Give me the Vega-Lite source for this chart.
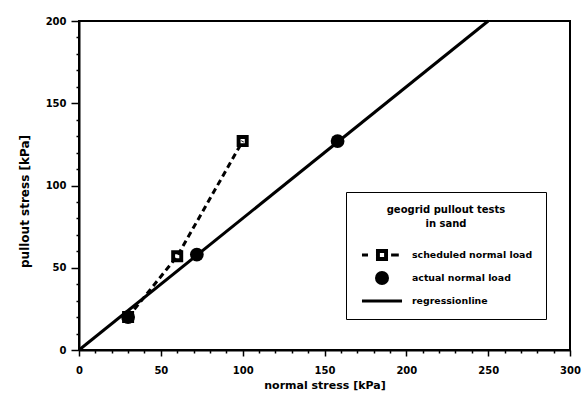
{
  "$schema": "https://vega.github.io/schema/vega-lite/v6.json",
  "width": 491,
  "height": 329,
  "autosize": "none",
  "padding": {"left": 79, "top": 21, "right": 18, "bottom": 53},
  "background": "white",
  "config": {
    "font": "DejaVu Sans",
    "view": {"stroke": "black", "strokeWidth": 2},
    "axis": {
      "grid": false,
      "domainColor": "black",
      "domainWidth": 2,
      "tickColor": "black",
      "tickWidth": 1.5,
      "labelColor": "black",
      "labelFont": "DejaVu Sans",
      "labelFontWeight": "bold",
      "labelFontSize": 10,
      "titleColor": "black",
      "titleFont": "DejaVu Sans",
      "titleFontWeight": "bold"
    }
  },
  "datasets": {
    "tests": [
      {"series": "scheduled normal load", "normal": 30, "pullout": 20},
      {"series": "scheduled normal load", "normal": 60, "pullout": 57},
      {"series": "scheduled normal load", "normal": 100, "pullout": 127},
      {"series": "actual normal load", "normal": 30, "pullout": 20},
      {"series": "actual normal load", "normal": 72, "pullout": 58},
      {"series": "actual normal load", "normal": 158, "pullout": 127}
    ],
    "regression": [
      {"series": "regressionline", "normal": 0, "pullout": 0},
      {"series": "regressionline", "normal": 250, "pullout": 200}
    ],
    "legendRows": [
      {"series": "scheduled normal load"},
      {"series": "actual normal load"},
      {"series": "regressionline"}
    ]
  },
  "encoding": {
    "x": {
      "field": "normal",
      "type": "quantitative",
      "scale": {"domain": [0, 300], "nice": false, "zero": false},
      "axis": {
        "title": "normal stress  [kPa]",
        "titleFontSize": 11,
        "values": [0,10,20,30,40,50,60,70,80,90,100,110,120,130,140,150,160,170,180,190,200,210,220,230,240,250,260,270,280,290,300],
        "labelExpr": "datum.value % 50 === 0 ? datum.label : ''",
        "tickSize": {"condition": {"test": "datum.value % 50 === 0", "value": 6}, "value": 3},
        "labelPadding": 9,
        "titlePadding": 4,
        "labelFlush": false
      }
    },
    "y": {
      "field": "pullout",
      "type": "quantitative",
      "scale": {"domain": [0, 200], "nice": false, "zero": false},
      "axis": {
        "title": "pullout stress  [kPa]",
        "titleFontSize": 12,
        "titleY": 180,
        "values": [0,10,20,30,40,50,60,70,80,90,100,110,120,130,140,150,160,170,180,190,200],
        "labelExpr": "datum.value % 50 === 0 ? datum.label : ''",
        "tickSize": {"condition": {"test": "datum.value % 50 === 0", "value": 8}, "value": 3},
        "labelPadding": 5,
        "titlePadding": 14,
        "labelFlush": false
      }
    }
  },
  "layer": [
    {
      "data": {"name": "regression"},
      "mark": {"type": "line", "color": "black", "strokeWidth": 3}
    },
    {
      "data": {"name": "tests"},
      "transform": [{"filter": "datum.series === 'scheduled normal load'"}],
      "mark": {"type": "line", "color": "black", "strokeWidth": 3, "strokeDash": [6, 4]}
    },
    {
      "data": {"name": "tests"},
      "transform": [{"filter": "datum.series === 'actual normal load'"}],
      "mark": {"type": "point", "shape": "circle", "filled": true, "color": "black", "size": 190, "opacity": 1}
    },
    {
      "data": {"name": "tests"},
      "transform": [{"filter": "datum.series === 'scheduled normal load'"}],
      "mark": {"type": "point", "shape": "M-1,-1H1V1H-1Z M-0.35,-0.35V0.35H0.35V-0.35Z", "filled": true, "color": "black", "size": 144, "opacity": 1}
    },
    {
      "data": {"name": "legendRows"},
      "mark": {"type": "point", "filled": true, "color": "black", "opacity": 1},
      "encoding": {
        "shape": {
          "field": "series",
          "type": "nominal",
          "scale": {
            "domain": ["scheduled normal load", "actual normal load", "regressionline"],
            "range": [
              "M-2.86,-0.2H-2V0.2H-2.86Z M-0.86,-0.86H0.86V0.86H-0.86Z M-0.3,-0.3V0.3H0.3V-0.3Z M1.3,-0.2H2.4V0.2H1.3Z",
              "circle",
              "M-2.86,-0.2H2.86V0.2H-2.86Z"
            ]
          },
          "legend": {
            "title": ["geogrid pullout tests", "in sand"],
            "orient": "none",
            "legendX": 267,
            "legendY": 171,
            "padding": 13,
            "fillColor": "white",
            "strokeColor": "black",
            "titleAlign": "center",
            "titleAnchor": "middle",
            "titleFont": "DejaVu Sans",
            "titleFontSize": 10,
            "titleFontWeight": "bold",
            "titleColor": "black",
            "titleLineHeight": 14,
            "titlePadding": 19,
            "labelFont": "DejaVu Sans",
            "labelFontSize": 9.4,
            "labelFontWeight": "bold",
            "labelColor": "black",
            "labelOffset": 23,
            "symbolOffset": 16,
            "symbolSize": 196,
            "symbolFillColor": "black",
            "symbolStrokeColor": "black",
            "symbolStrokeWidth": 0,
            "rowPadding": 9,
            "encode": {
              "legend": {"update": {"strokeWidth": {"value": 1.5}}},
              "symbols": {"update": {"opacity": {"value": 1}, "fill": {"value": "black"}, "strokeWidth": {"value": 0}}}
            }
          }
        }
      }
    }
  ]
}
